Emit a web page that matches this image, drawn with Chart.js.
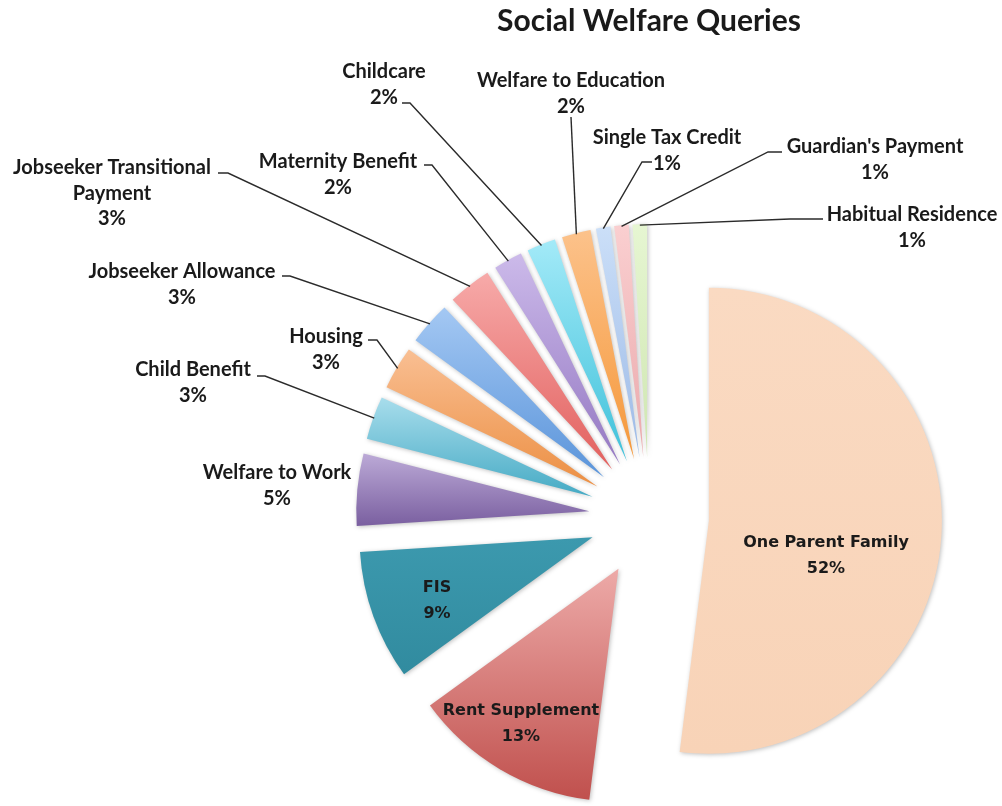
<!DOCTYPE html>
<html>
<head>
<meta charset="utf-8">
<title>Social Welfare Queries</title>
<script src="https://cdn.jsdelivr.net/npm/chart.js@4.4.1/dist/chart.umd.min.js"></script>
<style>
  html, body { margin: 0; padding: 0; background: #fff; }
</style>
</head>
<body>
<canvas id="chart" width="1002" height="806"></canvas>
<script>
// data
const categories = [
  'One Parent Family', 'Rent Supplement', 'FIS', 'Welfare to Work', 'Child Benefit',
  'Housing', 'Jobseeker Allowance', ['Jobseeker Transitional', 'Payment'],
  'Maternity Benefit', 'Childcare', 'Welfare to Education', 'Single Tax Credit',
  "Guardian's Payment", 'Habitual Residence'
];
const queryShares = [52, 13, 9, 5, 3, 3, 3, 3, 2, 2, 2, 1, 1, 1];

// look
const topColors = [
  '#FADAC2', '#EDAAA8', '#3C99AE', '#BCAAD7', '#A8DDEC', '#F9BF93', '#A4C8F3',
  '#F7AAA9', '#CCBAEA', '#A3EAF8', '#FCC28B', '#CBDFF8', '#FACFD0', '#E6F6D2'
];
const bottomColors = [
  '#F8D3B7', '#C0504D', '#318B9F', '#7A5FA0', '#45AAC4', '#EC8F43', '#5A94DA',
  '#E2605E', '#9478C2', '#3FC1DA', '#F5983A', '#9DBAE6', '#EAA9AC', '#CFE6B1'
];
const RADIUS = 233;
const EXPLODE = 60;

// where each label sits; tick = short horizontal stub before the leader line
const labelSpots = [
  { x: 826, y: 543, inside: true },
  { x: 521, y: 711, inside: true },
  { x: 437, y: 588, inside: true },
  { x: 277, y: 473 },
  { x: 193, y: 370, tick: { x1: 257, x2: 265, y: 376 } },
  { x: 326, y: 337, tick: { x1: 368, x2: 377, y: 340 } },
  { x: 182, y: 272, tick: { x1: 282, x2: 290, y: 276 } },
  { x: 112, y: 168, tick: { x1: 218, x2: 228, y: 173 } },
  { x: 338, y: 162, tick: { x1: 424, x2: 432, y: 165 } },
  { x: 384, y: 72, tick: { x1: 402, x2: 410, y: 103 } },
  { x: 571, y: 81, tick: { x1: 571, x2: 571, y: 117 } },
  { x: 667, y: 138, tick: { x1: 652, x2: 642, y: 162 } },
  { x: 875, y: 147, tick: { x1: 782, x2: 768, y: 152 } },
  { x: 912, y: 215, tick: { x1: 823, x2: 790, y: 219 } }
];

const sum = (arr) => arr.reduce((a, b) => a + b, 0);

// vertical gradient over each slice's own bounding box
function sliceFill(c) {
  const i = c.dataIndex;
  const area = c.chart.chartArea;
  if (!area) return bottomColors[i];
  const cx = (area.left + area.right) / 2;
  const cy = (area.top + area.bottom) / 2;
  const total = sum(queryShares);
  const a0 = -Math.PI / 2 + 2 * Math.PI * sum(queryShares.slice(0, i)) / total;
  const a1 = a0 + 2 * Math.PI * queryShares[i] / total;
  const ys = [cy, cy + Math.sin(a0) * RADIUS, cy + Math.sin(a1) * RADIUS];
  [-Math.PI / 2, Math.PI / 2, 3 * Math.PI / 2].forEach((t) => {
    if (t > a0 && t < a1) ys.push(cy + Math.sin(t) * RADIUS);
  });
  const g = c.chart.ctx.createLinearGradient(0, Math.min(...ys), 0, Math.max(...ys));
  g.addColorStop(0, topColors[i]);
  g.addColorStop(1, bottomColors[i]);
  return g;
}

// pie where every slice is pulled out by the same distance
class ExplodedPieController extends Chart.PieController {
  draw() {
    const ctx = this.chart.ctx;
    this._cachedMeta.data.forEach((arc) => {
      const mid = (arc.startAngle + arc.endAngle) / 2;
      ctx.save();
      ctx.translate(Math.cos(mid) * EXPLODE, Math.sin(mid) * EXPLODE);
      ctx.shadowColor = 'rgba(0,0,0,0.25)';
      ctx.shadowBlur = 4;
      ctx.shadowOffsetX = 1;
      ctx.shadowOffsetY = 1;
      arc.draw(ctx, this.chart.chartArea);
      ctx.restore();
    });
  }
}
ExplodedPieController.id = 'explodedPie';
ExplodedPieController.defaults = Chart.PieController.defaults;
ExplodedPieController.overrides = Chart.PieController.overrides;
Chart.register(ExplodedPieController);

const sliceLabels = {
  id: 'sliceLabels',
  afterDatasetsDraw(chart) {
    const ctx = chart.ctx;
    const arcs = chart.getDatasetMeta(0).data;
    const total = sum(queryShares);
    arcs.forEach((arc, i) => {
      const spot = labelSpots[i];
      const name = categories[i];
      const lines = (Array.isArray(name) ? name : [name])
        .concat(Math.round(queryShares[i] / total * 100) + '%');
      ctx.save();
      if (spot.tick) {
        const mid = (arc.startAngle + arc.endAngle) / 2;
        const r = arc.outerRadius + EXPLODE - 1;
        ctx.strokeStyle = '#2b2b2b';
        ctx.lineWidth = 1.4;
        ctx.beginPath();
        ctx.moveTo(spot.tick.x1, spot.tick.y);
        ctx.lineTo(spot.tick.x2, spot.tick.y);
        ctx.lineTo(arc.x + Math.cos(mid) * r, arc.y + Math.sin(mid) * r);
        ctx.stroke();
      }
      ctx.fillStyle = '#1a1a1a';
      ctx.textAlign = 'center';
      ctx.textBaseline = 'middle';
      ctx.font = spot.inside ? 'bold 16px "DejaVu Sans"' : 'bold 20px Lato';
      lines.forEach((t, k) => ctx.fillText(t, spot.x, spot.y + k * 25.5));
      ctx.restore();
    });
  }
};

new Chart(document.getElementById('chart'), {
  type: 'explodedPie',
  data: {
    labels: categories,
    datasets: [{
      data: queryShares,
      backgroundColor: sliceFill,
      borderWidth: 0,
      clip: false
    }]
  },
  options: {
    responsive: false,
    animation: false,
    events: [],
    radius: RADIUS,
    layout: { padding: { left: 296, right: 0, top: 0, bottom: 0 } },
    plugins: {
      legend: { display: false },
      tooltip: { enabled: false },
      title: {
        display: true,
        text: 'Social Welfare Queries',
        color: '#1a1a1a',
        font: { family: 'Lato', size: 30, weight: 'bold', lineHeight: 1.2 },
        padding: { top: 3, bottom: 189 }
      }
    }
  },
  plugins: [sliceLabels]
});
</script>
</body>
</html>
